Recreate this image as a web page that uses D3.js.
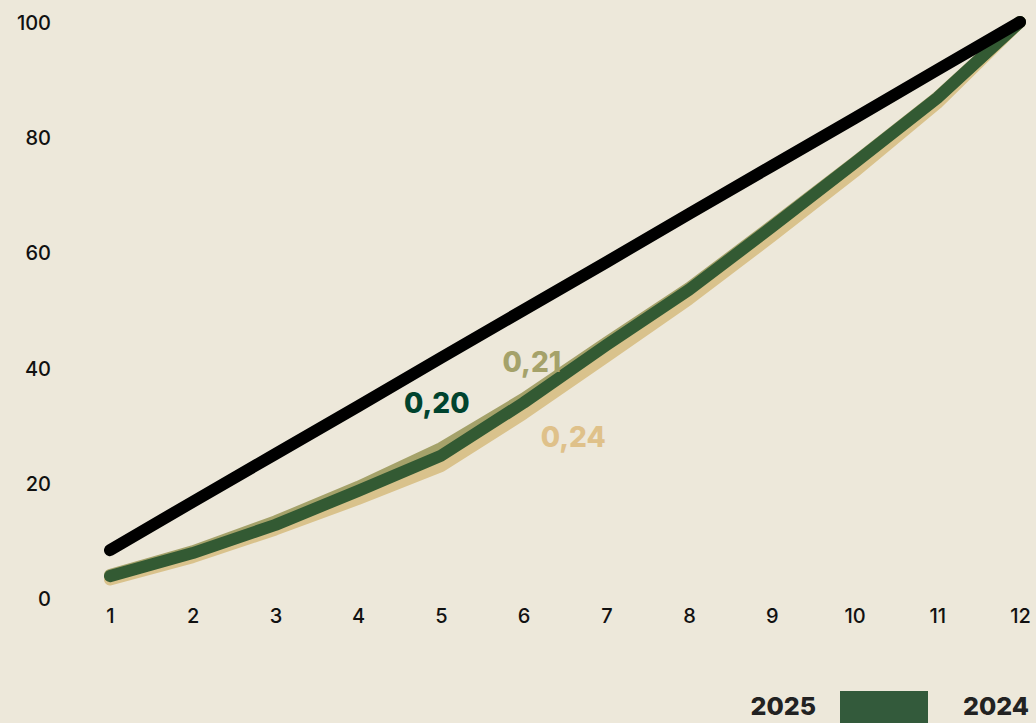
<!DOCTYPE html>
<html>
<head>
<meta charset="utf-8">
<script src="https://cdn.jsdelivr.net/npm/d3@7"></script>
<style>
  html, body { margin: 0; padding: 0; background: #ede8da; }
  #chart { width: 1036px; height: 723px; overflow: hidden; }
  text { font-family: "Inter", "Noto Sans", sans-serif; }
</style>
</head>
<body>
<div id="chart"></div>
<script>
var deciles = [1, 2, 3, 4, 5, 6, 7, 8, 9, 10, 11, 12];
var yTicks = [0, 20, 40, 60, 80, 100];

// cumulative share (%)
var equality = [8.3, 16.7, 25, 33.3, 41.7, 50, 58.3, 66.7, 75, 83.3, 91.7, 100];
var share021 = [4.0, 8.1, 13.3, 19.3, 26.0, 34.6, 44.3, 53.8, 64.6, 75.6, 86.9, 100];
var share024 = [3.2, 7.1, 11.9, 17.2, 22.9, 32.0, 41.9, 51.9, 62.8, 74.0, 85.9, 100];
var share020 = [3.8, 7.8, 12.7, 18.6, 24.7, 33.9, 43.9, 53.5, 64.4, 75.5, 86.8, 100];

var legendLabels = ['2025', '2024'];

(function() {
  var svg = d3.select('#chart')
            .append('svg')
            .attr('width', 1036)
            .attr('height', 723);

  var x = d3.scaleLinear().domain([1, 12]).range([110, 1020]);
  var y = d3.scaleLinear().domain([0, 100]).range([598, 22]);

  function styleTicks(g) {
    g.select('.domain').remove();
    g.selectAll('text')
      .attr('font-size', 20)
      .attr('font-weight', 500)
      .attr('fill', '#111')
      .attr('font-family', 'Inter, "Noto Sans", sans-serif');
  }

  var yAxis = d3.axisLeft(y).tickValues(yTicks).tickSize(0).tickPadding(0);
  svg.append('g')
    .attr('transform', 'translate(51,1)')
    .call(yAxis)
    .call(styleTicks);

  var xAxis = d3.axisBottom(x).tickValues(deciles).tickSize(0).tickPadding(0);
  svg.append('g')
    .attr('transform', 'translate(0,609)')
    .call(xAxis)
    .call(styleTicks);

  var line = d3.line()
    .x(function(d, i) { return x(deciles[i]); })
    .y(function(d) { return y(d); });

  var series = [
    { values: share024, colour: '#d9c28c', width: 12 },
    { values: share021, colour: '#a5a26a', width: 12 },
    { values: share020, colour: '#335a33', width: 12 },
    { values: equality, colour: '#000000', width: 12 }
  ];

  series.forEach(function(s) {
    svg.append('path')
      .datum(s.values)
      .attr('d', line)
      .attr('fill', 'none')
      .attr('stroke', s.colour)
      .attr('stroke-width', s.width)
      .attr('stroke-linecap', 'round')
      .attr('stroke-linejoin', 'round');
  });

  var labels = [
    { text: '0,20', at: [4.95, 33.5], colour: '#00432e' },
    { text: '0,21', at: [6.1, 40.5], colour: '#a5a26a' },
    { text: '0,24', at: [6.6, 27.5], colour: '#dfc18a' }
  ];

  labels.forEach(function(l) {
    svg.append('text')
      .attr('x', x(l.at[0]))
      .attr('y', y(l.at[1]))
      .attr('text-anchor', 'middle')
      .attr('dominant-baseline', 'middle')
      .attr('font-size', 28)
      .attr('font-weight', 800)
      .attr('fill', l.colour)
      .text(l.text);
  });

  // legend along the bottom edge
  svg.append('text')
    .attr('x', 816).attr('y', 715)
    .attr('text-anchor', 'end')
    .attr('font-size', 25)
    .attr('font-weight', 800)
    .attr('fill', '#222')
    .text(legendLabels[0]);

  svg.append('rect')
    .attr('x', 840).attr('y', 691)
    .attr('width', 88).attr('height', 40)
    .attr('fill', '#335a3b');

  svg.append('text')
    .attr('x', 963).attr('y', 715)
    .attr('font-size', 25)
    .attr('font-weight', 800)
    .attr('fill', '#222')
    .text(legendLabels[1]);
}());
</script>
</body>
</html>
